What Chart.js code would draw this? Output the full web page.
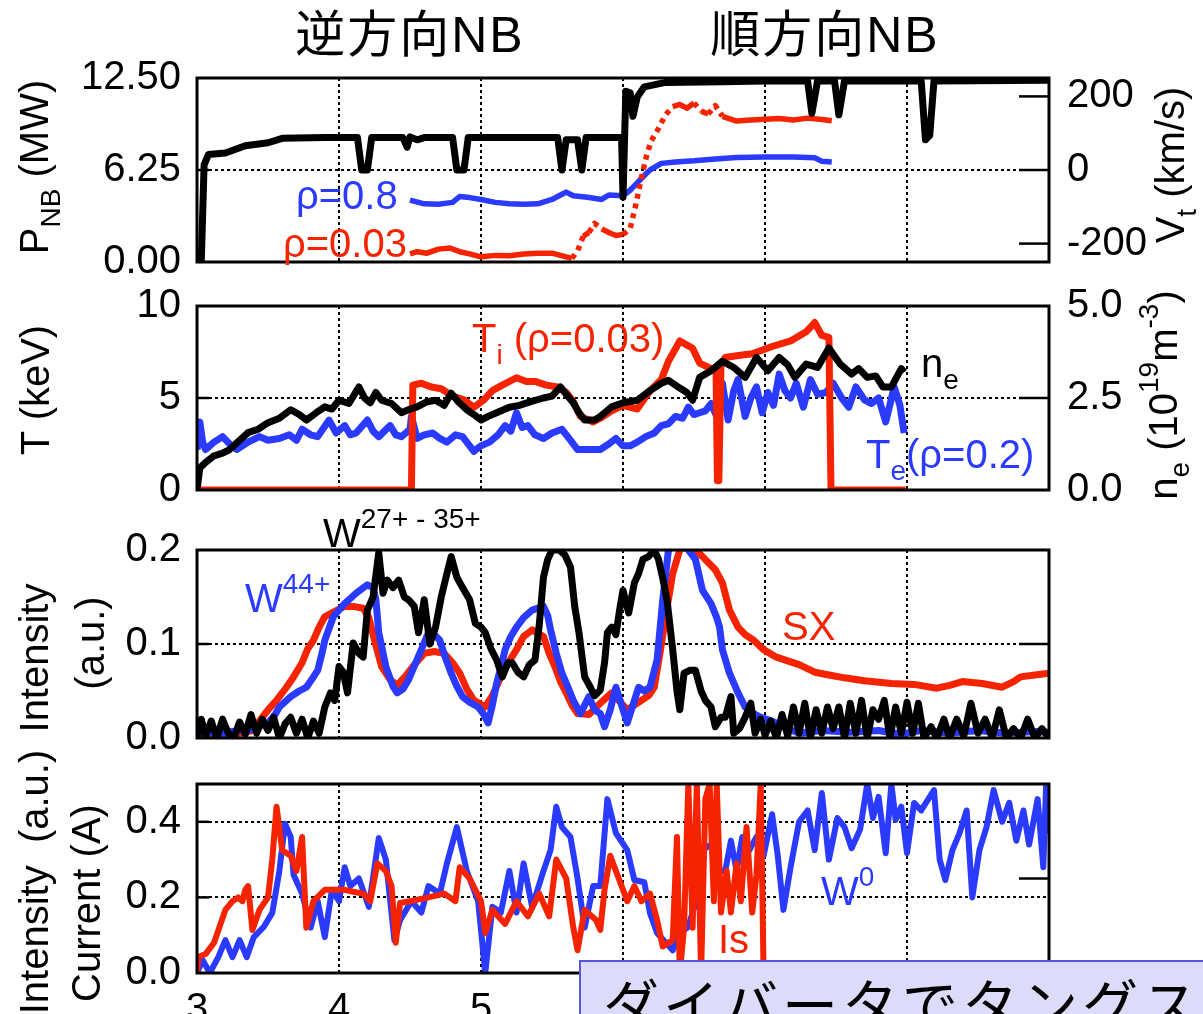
<!DOCTYPE html>
<html>
<head>
<meta charset="utf-8">
<script src="https://cdn.jsdelivr.net/npm/chart.js@4.4.1/dist/chart.umd.min.js"></script>
<style>
  body { margin: 0; width: 1203px; height: 1014px; overflow: hidden; background: #fff; position: relative;
         font-family: "Liberation Sans", Arial, "Noto Sans CJK JP", sans-serif; color: #000; }
  canvas { position: absolute; left: 0; }
  .t { position: absolute; white-space: nowrap; font-size: 40px; line-height: 40px; }
  .rl { position: absolute; white-space: nowrap; font-size: 40px; line-height: 40px;
        transform: translate(-50%, -50%) rotate(-90deg); }
  .title { position: absolute; white-space: nowrap; font-size: 50px; line-height: 50px; letter-spacing: 2px;
           transform: translate(-50%, -50%); font-family: "Liberation Sans", "Noto Sans CJK JP", sans-serif; }
  .sub { font-size: 28px; position: relative; top: 12px; }
  .sup { font-size: 28px; position: relative; top: -19px; }
  .red { color: #f52300; }
  .blue { color: #2a3aff; }
  #note { position: absolute; left: 579px; top: 960px; width: 700px; height: 120px; box-sizing: border-box;
          background: #dcdcfa; border: 2px solid #5555dd; }
  #note span { position: absolute; left: 22px; top: 12px; font-family: "Noto Sans CJK JP", sans-serif;
               font-size: 56px; line-height: 56px; letter-spacing: 4px; white-space: nowrap; }
</style>
</head>
<body>
<canvas id="c1" width="1203" height="268" style="top:36px"></canvas>
<canvas id="c2" width="1203" height="268" style="top:264px"></canvas>
<canvas id="c3" width="1203" height="268" style="top:510px"></canvas>
<canvas id="c4" width="1203" height="270" style="top:744px"></canvas>

<div class="title" style="left:410px;top:35px">逆方向NB</div>
<div class="title" style="left:825px;top:35px">順方向NB</div>

<div class="rl" style="left:36px;top:167px">P<span class="sub">NB</span> (MW)</div>
<div class="rl" style="left:1172px;top:165px">V<span class="sub">t</span> (km/s)</div>
<div class="rl" style="left:35px;top:390px">T (keV)</div>
<div class="rl" style="left:1165px;top:395px">n<span class="sub">e</span> (10<span class="sup">19</span>m<span class="sup">-3</span>)</div>
<div class="rl" style="left:34px;top:658px">Intensity</div>
<div class="rl" style="left:90px;top:643px">(a.u.)</div>
<div class="rl" style="left:34px;top:882px">Intensity&nbsp; (a.u.)</div>
<div class="rl" style="left:86px;top:903px">Current (A)</div>

<div class="t blue" style="left:296px;top:175px">ρ=0.8</div>
<div class="t red" style="left:283px;top:223px">ρ=0.03</div>
<div class="t red" style="left:472px;top:318px">T<span class="sub">i</span> (ρ=0.03)</div>
<div class="t" style="left:921px;top:343px">n<span class="sub">e</span></div>
<div class="t blue" style="left:866px;top:434px">T<span class="sub">e</span>(ρ=0.2)</div>
<div class="t" style="left:323px;top:513px">W<span class="sup">27+ - 35+</span></div>
<div class="t blue" style="left:245px;top:578px">W<span class="sup">44+</span></div>
<div class="t red" style="left:782px;top:606px">SX</div>
<div class="t blue" style="left:821px;top:871px">W<span class="sup">0</span></div>
<div class="t red" style="left:718px;top:919px">Is</div>

<div id="note"><span>ダイバータでタングステン</span></div>

<script>
// ---------- panel 1 : NB power (MW) and toroidal rotation Vt (km/s)
const pnbTime = [3.0, 3.03, 3.05, 3.08, 3.2, 3.34, 3.5, 3.6, 3.9, 4.13, 4.16, 4.2, 4.23, 4.45, 4.48, 4.5, 4.55, 4.6, 4.8, 4.83, 4.88, 4.91, 5.54, 5.57, 5.6, 5.68, 5.71, 5.74, 5.99, 6.0, 6.02, 6.05, 6.07, 6.1, 6.15, 6.3, 6.7, 7.0, 7.3, 7.33, 7.37, 7.49, 7.52, 7.56, 8.1, 8.13, 8.16, 8.19, 9.0];
const pnbMW = [0, 0, 6.6, 7.3, 7.4, 7.9, 8.1, 8.4, 8.45, 8.45, 6.25, 6.25, 8.45, 8.45, 7.8, 8.5, 8.3, 8.45, 8.45, 6.25, 6.25, 8.45, 8.45, 6.25, 8.3, 8.3, 6.25, 8.45, 8.45, 4.4, 11.6, 11.5, 9.9, 11.2, 11.9, 12.2, 12.25, 12.3, 12.3, 10.1, 12.3, 12.3, 10.0, 12.3, 12.3, 8.3, 8.6, 12.3, 12.35];

const vtCoreTime = [4.5, 4.55, 4.62, 4.7, 4.78, 4.85, 4.92, 5.0, 5.1, 5.2, 5.3, 5.4, 5.5, 5.6, 5.64, 5.68, 5.72, 5.76, 5.8, 5.85, 5.9, 5.95, 6.0, 6.05, 6.09, 6.13, 6.17, 6.2, 6.24, 6.3, 6.35, 6.4, 6.45, 6.5, 6.55, 6.6, 6.65, 6.7, 6.8, 6.9, 7.0, 7.1, 7.2, 7.3, 7.4, 7.47];
const vtCore = [-228, -222, -226, -215, -212, -222, -228, -236, -232, -233, -228, -226, -226, -236, -240, -220, -180, -170, -145, -160, -170, -178, -175, -160, -95, -20, 45, 80, 106, 150, 172, 178, 168, 182, 160, 152, 175, 146, 133, 136, 138, 140, 136, 141, 137, 134];

const vtEdgeTime = [4.5, 4.6, 4.7, 4.8, 4.85, 4.92, 5.0, 5.1, 5.2, 5.3, 5.4, 5.5, 5.57, 5.6, 5.65, 5.75, 5.85, 5.9, 6.0, 6.05, 6.1, 6.15, 6.19, 6.27, 6.37, 6.5, 6.65, 6.8, 7.0, 7.2, 7.35, 7.4, 7.47];
const vtEdge = [-82, -92, -93, -88, -72, -75, -80, -88, -92, -93, -92, -80, -66, -60, -70, -74, -80, -68, -70, -55, -35, -15, 0, 18, 22, 25, 30, 34, 35, 35, 33, 24, 22];

// ---------- panel 2 : Ti, Te (keV) and ne (1e19 m^-3)
const tiTime = [3.0, 4.51, 4.52, 4.58, 4.65, 4.72, 4.8, 4.88, 4.95, 5.02, 5.08, 5.15, 5.25, 5.32, 5.38, 5.46, 5.54, 5.6, 5.65, 5.7, 5.79, 5.84, 5.92, 6.0, 6.1, 6.19, 6.27, 6.32, 6.4, 6.49, 6.54, 6.62, 6.655, 6.665, 6.675, 6.69, 6.72, 6.8, 6.91, 7.05, 7.18, 7.29, 7.35, 7.4, 7.45, 7.465, 7.99];
const tiKeV = [0, 0, 5.7, 5.8, 5.6, 5.5, 5.1, 4.9, 4.5, 4.9, 5.4, 5.7, 6.1, 5.9, 5.9, 5.7, 5.6, 5.3, 4.8, 4.0, 3.7, 3.9, 4.3, 4.6, 4.4, 5.4, 6.0, 7.0, 8.1, 7.7, 6.9, 6.6, 6.6, 0.5, 0.5, 6.8, 7.2, 7.3, 7.4, 7.8, 8.1, 8.6, 9.1, 8.4, 8.3, 0, 0];

const neTime = [3.0, 3.02, 3.06, 3.12, 3.18, 3.23, 3.3, 3.36, 3.43, 3.5, 3.58, 3.66, 3.72, 3.77, 3.84, 3.9, 3.95, 4.0, 4.07, 4.14, 4.18, 4.22, 4.26, 4.3, 4.37, 4.44, 4.5, 4.55, 4.62, 4.68, 4.74, 4.79, 4.84, 4.9, 4.95, 5.0, 5.05, 5.11, 5.2, 5.27, 5.35, 5.44, 5.5, 5.56, 5.6, 5.65, 5.69, 5.73, 5.8, 5.84, 5.92, 6.0, 6.1, 6.19, 6.27, 6.32, 6.4, 6.45, 6.49, 6.54, 6.62, 6.7, 6.78, 6.86, 6.94, 7.02, 7.1, 7.16, 7.21, 7.29, 7.37, 7.45, 7.53, 7.61, 7.66, 7.72, 7.78, 7.83, 7.89, 7.96, 7.98];
const ne = [0, 0.6, 0.75, 0.93, 1.0, 1.1, 1.35, 1.56, 1.65, 1.83, 1.95, 2.18, 2.05, 1.9, 2.1, 2.26, 2.2, 2.44, 2.35, 2.8, 2.5, 2.37, 2.65, 2.44, 2.35, 2.1, 2.2, 2.26, 2.4, 2.44, 2.3, 2.63, 2.4, 2.18, 2.05, 1.9, 2.0, 2.1, 2.25, 2.3, 2.4, 2.5, 2.55, 2.8, 2.6, 2.37, 2.1, 1.9, 1.9, 2.0, 2.26, 2.37, 2.44, 2.7, 2.9, 2.98, 2.77, 2.65, 2.44, 3.06, 3.24, 3.5, 3.33, 3.06, 3.6, 3.24, 3.6, 3.4, 3.06, 3.42, 3.33, 3.86, 3.42, 3.15, 3.3, 3.06, 3.1, 2.8, 2.8, 3.3, 3.2];

const teTime = [3.0, 3.02, 3.04, 3.06, 3.12, 3.18, 3.23, 3.28, 3.36, 3.44, 3.5, 3.58, 3.65, 3.7, 3.74, 3.8, 3.85, 3.93, 3.98, 4.04, 4.08, 4.12, 4.2, 4.24, 4.28, 4.36, 4.4, 4.44, 4.5, 4.51, 4.55, 4.6, 4.66, 4.71, 4.76, 4.82, 4.87, 4.95, 5.0, 5.06, 5.12, 5.17, 5.21, 5.25, 5.29, 5.33, 5.38, 5.44, 5.5, 5.57, 5.62, 5.68, 5.76, 5.84, 5.9, 5.95, 6.0, 6.05, 6.1, 6.16, 6.22, 6.27, 6.32, 6.37, 6.42, 6.46, 6.5, 6.54, 6.58, 6.62, 6.66, 6.7, 6.74, 6.78, 6.81, 6.86, 6.9, 6.94, 6.98, 7.02, 7.06, 7.1, 7.14, 7.18, 7.22, 7.27, 7.32, 7.37, 7.43, 7.48, 7.54, 7.59, 7.64, 7.7, 7.75, 7.8, 7.85, 7.91, 7.95, 7.98];
const teKeV = [2.2, 3.7, 2.6, 2.2, 2.6, 2.9, 2.5, 2.2, 2.6, 2.9, 2.7, 2.8, 3.0, 2.7, 3.3, 3.0, 2.9, 3.8, 3.1, 3.5, 3.0, 3.1, 3.8, 3.2, 2.9, 3.5, 3.0, 2.9, 3.3, 4.0, 2.8, 3.0, 3.1, 2.8, 2.6, 3.0, 2.9, 2.1, 2.4, 2.6, 3.0, 3.5, 3.2, 4.2, 3.4, 3.5, 3.0, 2.8, 3.1, 3.3, 2.8, 2.2, 2.2, 2.2, 2.5, 2.8, 2.4, 2.4, 2.6, 2.9, 3.1, 3.5, 3.6, 4.0, 3.9, 4.5, 4.1, 4.2, 4.3, 4.7, 4.0, 5.8, 3.8, 5.4, 6.0, 4.0, 5.0, 5.6, 4.2, 5.3, 4.6, 6.3, 5.4, 5.0, 5.8, 4.5, 6.0, 5.2, 5.3, 5.8, 5.0, 4.5, 5.6, 4.9, 4.7, 5.0, 3.7, 5.6, 4.6, 3.1];

// ---------- panel 3 : line intensities (a.u.)
const sxTime = [3.0, 3.1, 3.2, 3.3, 3.39, 3.45, 3.5, 3.56, 3.63, 3.68, 3.74, 3.78, 3.82, 3.86, 3.9, 3.96, 4.04, 4.1, 4.17, 4.21, 4.25, 4.3, 4.36, 4.41, 4.47, 4.52, 4.6, 4.67, 4.74, 4.8, 4.85, 4.9, 4.95, 5.03, 5.08, 5.14, 5.2, 5.25, 5.3, 5.36, 5.44, 5.48, 5.52, 5.56, 5.6, 5.64, 5.68, 5.76, 5.84, 5.92, 5.97, 6.03, 6.08, 6.13, 6.18, 6.22, 6.26, 6.3, 6.35, 6.4, 6.45, 6.51, 6.56, 6.65, 6.7, 6.75, 6.81, 6.86, 6.92, 6.99, 7.08, 7.16, 7.24, 7.35, 7.45, 7.56, 7.7, 7.89, 8.05, 8.21, 8.3, 8.39, 8.53, 8.67, 8.75, 8.8, 8.9, 9.0];
const sx = [0.003, 0.004, 0.003, 0.005, 0.008, 0.02, 0.03, 0.04, 0.054, 0.065, 0.08, 0.095, 0.104, 0.118, 0.129, 0.134, 0.14, 0.14, 0.138, 0.128, 0.104, 0.076, 0.062, 0.056, 0.066, 0.076, 0.09, 0.092, 0.09, 0.08, 0.069, 0.052, 0.04, 0.033, 0.045, 0.065, 0.082, 0.094, 0.108, 0.115, 0.108, 0.09, 0.076, 0.06, 0.048, 0.035, 0.026, 0.025, 0.037, 0.048, 0.04, 0.03, 0.035, 0.04, 0.045, 0.054, 0.09, 0.129, 0.175, 0.2, 0.205, 0.2, 0.193, 0.179, 0.165, 0.136, 0.118, 0.11, 0.104, 0.094, 0.086, 0.082, 0.078, 0.07, 0.067, 0.064, 0.061, 0.058, 0.057, 0.053, 0.056, 0.06, 0.058, 0.054, 0.06, 0.065, 0.067, 0.069];

const w44Time = [3.0, 3.05, 3.1, 3.15, 3.2, 3.3, 3.36, 3.43, 3.5, 3.55, 3.58, 3.66, 3.72, 3.77, 3.82, 3.85, 3.88, 3.9, 3.96, 4.04, 4.12, 4.2, 4.24, 4.26, 4.28, 4.33, 4.38, 4.41, 4.45, 4.49, 4.54, 4.58, 4.63, 4.67, 4.71, 4.75, 4.79, 4.83, 4.87, 4.92, 4.98, 5.02, 5.05, 5.08, 5.11, 5.14, 5.17, 5.21, 5.25, 5.3, 5.36, 5.44, 5.47, 5.49, 5.53, 5.57, 5.61, 5.65, 5.7, 5.73, 5.76, 5.8, 5.84, 5.87, 5.91, 5.95, 5.99, 6.03, 6.07, 6.11, 6.15, 6.19, 6.24, 6.28, 6.32, 6.4, 6.46, 6.51, 6.56, 6.62, 6.66, 6.68, 6.7, 6.75, 6.81, 6.86, 6.92, 6.97, 7.05, 7.13, 7.24, 7.4, 7.6, 7.8, 7.95, 8.1, 8.3, 8.5, 8.7, 8.9, 9.0];
const w44 = [0.005, 0.0, 0.008, 0.0, 0.006, 0.008, 0.008, 0.012, 0.016, 0.025, 0.033, 0.044, 0.05, 0.054, 0.065, 0.072, 0.09, 0.104, 0.129, 0.143, 0.154, 0.163, 0.16, 0.147, 0.112, 0.076, 0.055, 0.048, 0.052, 0.062, 0.08, 0.094, 0.112, 0.11, 0.104, 0.085, 0.069, 0.055, 0.044, 0.038, 0.033, 0.025, 0.016, 0.035, 0.058, 0.075, 0.094, 0.108, 0.118, 0.128, 0.136, 0.14, 0.13, 0.115, 0.09, 0.069, 0.055, 0.04, 0.026, 0.035, 0.044, 0.03, 0.026, 0.012, 0.03, 0.054, 0.035, 0.016, 0.035, 0.054, 0.05, 0.054, 0.083, 0.147, 0.2, 0.21, 0.2, 0.19, 0.157, 0.143, 0.128, 0.118, 0.094, 0.069, 0.048, 0.033, 0.026, 0.022, 0.018, 0.012, 0.005, 0.008, 0.006, 0.008, 0.004, 0.008, 0.005, 0.008, 0.005, 0.007, 0.006];

const w27Time = [3.0, 3.03, 3.06, 3.1, 3.14, 3.18, 3.22, 3.26, 3.3, 3.34, 3.38, 3.42, 3.46, 3.5, 3.54, 3.58, 3.62, 3.66, 3.7, 3.74, 3.78, 3.82, 3.86, 3.9, 3.94, 3.97, 4.0, 4.03, 4.06, 4.1, 4.14, 4.17, 4.2, 4.24, 4.28, 4.31, 4.34, 4.38, 4.42, 4.46, 4.49, 4.53, 4.56, 4.6, 4.64, 4.68, 4.72, 4.76, 4.79, 4.83, 4.87, 4.92, 4.96, 5.0, 5.03, 5.07, 5.11, 5.15, 5.19, 5.22, 5.26, 5.3, 5.34, 5.38, 5.41, 5.44, 5.47, 5.5, 5.55, 5.59, 5.63, 5.66, 5.69, 5.73, 5.77, 5.8, 5.84, 5.87, 5.89, 5.92, 5.95, 5.98, 6.0, 6.04, 6.08, 6.11, 6.14, 6.18, 6.22, 6.25, 6.28, 6.31, 6.35, 6.38, 6.4, 6.43, 6.47, 6.51, 6.55, 6.58, 6.62, 6.65, 6.69, 6.72, 6.76, 6.78, 6.82, 6.86, 6.9, 6.93, 6.97, 7.0, 7.04, 7.08, 7.12, 7.16, 7.2, 7.24, 7.28, 7.32, 7.36, 7.4, 7.44, 7.48, 7.52, 7.56, 7.6, 7.64, 7.68, 7.72, 7.76, 7.8, 7.84, 7.88, 7.92, 7.96, 8.0, 8.04, 8.08, 8.12, 8.17, 8.21, 8.26, 8.3, 8.35, 8.4, 8.45, 8.5, 8.55, 8.6, 8.65, 8.7, 8.75, 8.8, 8.85, 8.9, 8.95, 9.0];
const w27 = [0.0, 0.02, 0.002, 0.018, 0.0, 0.02, 0.005, 0.0, 0.017, 0.004, 0.025, 0.005, 0.02, 0.008, 0.022, 0.0, 0.015, 0.022, 0.005, 0.02, 0.0, 0.018, 0.005, 0.033, 0.048, 0.04, 0.076, 0.07, 0.048, 0.101, 0.09, 0.086, 0.136, 0.15, 0.197, 0.154, 0.168, 0.16, 0.168, 0.15, 0.147, 0.14, 0.112, 0.147, 0.1, 0.118, 0.15, 0.175, 0.193, 0.171, 0.16, 0.147, 0.122, 0.118, 0.112, 0.095, 0.083, 0.065, 0.08, 0.08, 0.07, 0.065, 0.078, 0.083, 0.12, 0.171, 0.19, 0.2, 0.2, 0.195, 0.182, 0.14, 0.112, 0.065, 0.054, 0.045, 0.051, 0.08, 0.112, 0.118, 0.11, 0.14, 0.157, 0.133, 0.165, 0.175, 0.19, 0.193, 0.2, 0.19, 0.17, 0.147, 0.094, 0.05, 0.03, 0.069, 0.072, 0.072, 0.05, 0.04, 0.033, 0.012, 0.022, 0.022, 0.044, 0.005, 0.01, 0.022, 0.037, 0.005, 0.02, 0.003, 0.018, 0.0, 0.025, 0.002, 0.033, 0.005, 0.037, 0.0, 0.03, 0.005, 0.033, 0.01, 0.033, 0.0, 0.037, 0.005, 0.04, 0.0, 0.03, 0.02, 0.04, 0.0, 0.033, 0.005, 0.038, 0.005, 0.037, 0.0, 0.012, 0.0, 0.02, 0.0, 0.02, 0.002, 0.037, 0.005, 0.02, 0.0, 0.03, 0.0, 0.01, 0.0, 0.02, 0.0, 0.01, 0.0];

// ---------- panel 4 : W0 intensity and ion saturation current Is
const w0Time = [3.0, 3.04, 3.09, 3.15, 3.2, 3.25, 3.3, 3.35, 3.4, 3.47, 3.53, 3.58, 3.62, 3.66, 3.68, 3.74, 3.8, 3.85, 3.9, 3.95, 4.0, 4.04, 4.08, 4.14, 4.21, 4.28, 4.33, 4.39, 4.43, 4.51, 4.58, 4.63, 4.71, 4.76, 4.83, 4.9, 4.98, 5.03, 5.08, 5.14, 5.2, 5.25, 5.3, 5.36, 5.44, 5.49, 5.53, 5.57, 5.63, 5.68, 5.73, 5.79, 5.84, 5.89, 5.95, 6.03, 6.08, 6.15, 6.19, 6.24, 6.35, 6.4, 6.46, 6.51, 6.56, 6.62, 6.67, 6.72, 6.76, 6.8, 6.84, 6.89, 6.94, 6.99, 7.05, 7.09, 7.13, 7.18, 7.24, 7.3, 7.35, 7.4, 7.45, 7.51, 7.56, 7.61, 7.67, 7.72, 7.76, 7.8, 7.85, 7.89, 7.92, 7.96, 8.0, 8.05, 8.1, 8.15, 8.19, 8.23, 8.27, 8.32, 8.37, 8.42, 8.46, 8.51, 8.56, 8.61, 8.67, 8.72, 8.77, 8.82, 8.86, 8.92, 8.96, 8.98, 9.0];
const w0 = [0.0, 0.034, 0.0, 0.042, 0.087, 0.042, 0.087, 0.042, 0.095, 0.122, 0.159, 0.27, 0.395, 0.36, 0.26, 0.21, 0.12, 0.19, 0.095, 0.22, 0.19, 0.28, 0.23, 0.25, 0.175, 0.357, 0.3, 0.087, 0.14, 0.19, 0.16, 0.23, 0.21, 0.29, 0.386, 0.27, 0.19, 0.0, 0.175, 0.16, 0.27, 0.16, 0.29, 0.175, 0.27, 0.325, 0.44, 0.386, 0.36, 0.25, 0.12, 0.23, 0.23, 0.46, 0.37, 0.325, 0.246, 0.24, 0.159, 0.106, 0.06, 0.106, 0.122, 0.185, 0.325, 0.34, 0.27, 0.27, 0.35, 0.27, 0.36, 0.325, 0.36, 0.31, 0.42, 0.31, 0.167, 0.28, 0.4, 0.43, 0.325, 0.476, 0.3, 0.41, 0.386, 0.33, 0.38, 0.5, 0.41, 0.466, 0.317, 0.5, 0.405, 0.44, 0.317, 0.45, 0.43, 0.46, 0.484, 0.3, 0.246, 0.325, 0.37, 0.43, 0.2, 0.325, 0.386, 0.484, 0.4, 0.45, 0.35, 0.43, 0.34, 0.46, 0.28, 0.5, 0.37];

const isTime = [3.0, 3.01, 3.06, 3.12, 3.2, 3.25, 3.29, 3.32, 3.34, 3.36, 3.39, 3.44, 3.5, 3.53, 3.56, 3.6, 3.66, 3.7, 3.74, 3.77, 3.82, 3.9, 4.04, 4.1, 4.17, 4.22, 4.27, 4.33, 4.37, 4.4, 4.43, 4.5, 4.63, 4.74, 4.82, 4.85, 4.92, 5.0, 5.03, 5.08, 5.17, 5.25, 5.33, 5.41, 5.48, 5.53, 5.6, 5.65, 5.68, 5.73, 5.81, 5.84, 5.87, 5.91, 5.97, 6.03, 6.08, 6.13, 6.19, 6.24, 6.28, 6.35, 6.38, 6.4, 6.43, 6.46, 6.49, 6.52, 6.55, 6.58, 6.61, 6.64, 6.66, 6.69, 6.73, 6.76, 6.8, 6.83, 6.87, 6.91, 6.94, 6.97, 6.99];
const isAmp = [0.0, 0.042, 0.05, 0.08, 0.167, 0.19, 0.2, 0.19, 0.22, 0.23, 0.114, 0.167, 0.2, 0.3, 0.44, 0.325, 0.31, 0.27, 0.36, 0.12, 0.19, 0.22, 0.22, 0.215, 0.21, 0.19, 0.29, 0.27, 0.23, 0.08, 0.185, 0.19, 0.2, 0.21, 0.19, 0.28, 0.25, 0.19, 0.106, 0.167, 0.13, 0.19, 0.15, 0.21, 0.15, 0.3, 0.25, 0.12, 0.06, 0.167, 0.14, 0.114, 0.22, 0.31, 0.25, 0.19, 0.23, 0.19, 0.21, 0.14, 0.07, 0.087, 0.36, 0.0, 0.12, 0.5, 0.12, 0.5, 0.0, 0.46, 0.5, 0.19, 0.5, 0.16, 0.27, 0.16, 0.29, 0.19, 0.386, 0.16, 0.26, 0.5, 0.0];

const timeTicks = [3, 4, 5, 6, 7, 8, 9];

const RED = '#f52300', BLUE = '#2a3aff', BLACK = '#000';
const tickFont = { family: '"Liberation Sans", Arial, sans-serif', size: 40 };

// frame round the plot area plus the short inner tick marks
const framePlugin = {
  id: 'frame',
  afterDatasetsDraw(chart, args, opts) {
    const { ctx, chartArea: a } = chart;
    ctx.save();
    ctx.strokeStyle = '#000';
    ctx.lineWidth = 3;
    ctx.strokeRect(a.left, a.top, a.right - a.left, a.bottom - a.top);
    ctx.lineWidth = 2.5;
    const ys = chart.scales.y;
    (opts.left || []).forEach(v => {
      const p = ys.getPixelForValue(v);
      ctx.beginPath(); ctx.moveTo(a.left, p); ctx.lineTo(a.left + 12, p); ctx.stroke();
    });
    const rs = chart.scales[opts.rightAxis || 'y'];
    (opts.right || []).forEach(v => {
      const p = rs.getPixelForValue(v);
      ctx.beginPath(); ctx.moveTo(a.right - 30, p); ctx.lineTo(a.right, p); ctx.stroke();
    });
    ctx.restore();
  }
};

function pts(xs, ys) {
  return xs.map((x, i) => ({ x: x, y: ys[i] }));
}

function line(xs, ys, color, axis, width) {
  return {
    data: pts(xs, ys),
    borderColor: color,
    backgroundColor: color,
    borderWidth: width || 7,
    borderJoinStyle: 'round',
    pointRadius: 0,
    tension: 0,
    yAxisID: axis || 'y'
  };
}

function fixedTicks(values) {
  return scale => { scale.ticks = values.map(v => ({ value: v })); };
}

function yAxis(pos, min, max, ticks, digits, width, grid) {
  return {
    type: 'linear',
    position: pos,
    min: min,
    max: max,
    afterBuildTicks: fixedTicks(ticks),
    afterFit: s => { s.width = width; },
    ticks: {
      font: tickFont, color: '#000',
      padding: pos === 'left' ? 16 : 18,
      callback: v => (digits === 0 ? String(v) : v.toFixed(digits))
    },
    grid: { display: grid, drawOnChartArea: grid, drawTicks: false, color: '#000', lineWidth: 2 },
    border: { display: false, dash: [3, 3] }
  };
}

function xAxis(showLabels) {
  return {
    type: 'linear',
    min: 3,
    max: 9,
    afterBuildTicks: fixedTicks(timeTicks),
    afterFit: s => { s.height = showLabels ? 41 : 0; },
    ticks: { display: showLabels, font: tickFont, color: '#000', padding: 13, maxRotation: 0, callback: v => String(v) },
    grid: { color: '#000', lineWidth: 2, drawTicks: false },
    border: { display: false, dash: [3, 3] }
  };
}

function panel(id, datasets, scales, frame, pad) {
  new Chart(document.getElementById(id), {
    type: 'line',
    data: { datasets: datasets },
    options: {
      responsive: false,
      animation: false,
      devicePixelRatio: 1,
      layout: { padding: pad },
      plugins: { legend: { display: false }, tooltip: { enabled: false }, frame: frame },
      scales: scales
    },
    plugins: [framePlugin]
  });
}

// dotted where the rotation changes fast (sparse points in the original)
const steep = ctx => {
  const dt = ctx.p1.parsed.x - ctx.p0.parsed.x;
  return Math.abs((ctx.p1.parsed.y - ctx.p0.parsed.y) / dt) > 300 ? [5, 5] : undefined;
};

const vtCoreSet = line(vtCoreTime, vtCore, RED, 'y2', 5.5);
vtCoreSet.segment = { borderDash: steep };
vtCoreSet.borderCapStyle = 'butt';

panel('c1', [
  line(pnbTime, pnbMW, BLACK, 'y', 7),
  vtCoreSet,
  line(vtEdgeTime, vtEdge, BLUE, 'y2', 5.5)
], {
  x: xAxis(false),
  y: yAxis('left', 0, 12.5, [0, 6.25, 12.5], 2, 197, true),
  y2: yAxis('right', -250, 250, [-200, 0, 200], 0, 154, false)
}, { left: [6.25], right: [-200, 0, 200], rightAxis: 'y2' }, { top: 40, bottom: 40, left: 0, right: 0 });

panel('c2', [
  line(neTime, ne, BLACK, 'y2'),
  line(tiTime, tiKeV, RED, 'y'),
  line(teTime, teKeV, BLUE, 'y')
], {
  x: xAxis(false),
  y: yAxis('left', 0, 10, [0, 5, 10], 0, 197, true),
  y2: yAxis('right', 0, 5, [0, 2.5, 5], 1, 154, false)
}, { left: [5], right: [2.5], rightAxis: 'y2' }, { top: 40, bottom: 40, left: 0, right: 0 });

panel('c3', [
  line(w27Time, w27, BLACK, 'y'),
  line(w44Time, w44, BLUE, 'y'),
  line(sxTime, sx, RED, 'y')
], {
  x: xAxis(false),
  y: yAxis('left', 0, 0.2, [0, 0.1, 0.2], 1, 197, true)
}, { left: [0.1], right: [0.1] }, { top: 40, bottom: 40, left: 0, right: 154 });

panel('c4', [
  line(isTime, isAmp, RED, 'y', 6),
  line(w0Time, w0, BLUE, 'y', 6)
], {
  x: xAxis(true),
  y: yAxis('left', 0, 0.5, [0, 0.2, 0.4], 1, 197, true)
}, { left: [0.2, 0.4], right: [0.25] }, { top: 40, bottom: 0, left: 0, right: 154 });
</script>
</body>
</html>
